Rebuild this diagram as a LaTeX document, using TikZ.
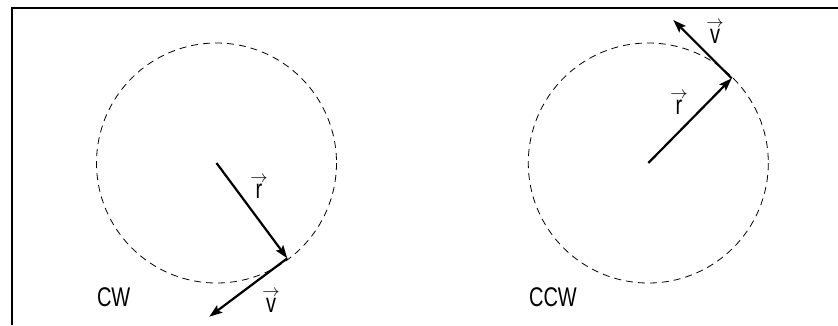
\documentclass[tikz,border=0pt]{standalone}
\usepackage{fontspec}
\setmainfont[FakeStretch=0.74]{Liberation Sans}
\usetikzlibrary{arrows.meta}
\newcommand{\vlab}[1]{\ensuremath{\stackrel{\mbox{\fontsize{19}{19}\selectfont$\rightarrow$}}{\mbox{#1}}}}
\tikzset{
  orbit/.style={draw=black, line width=0.8pt, dash pattern=on 7pt off 5pt},
  vecarrow/.style={draw=black, line width=2.2pt, line join=miter, -{Stealth[length=13pt,width=9pt,inset=2.5pt]}},
  lbl/.style={inner sep=0pt, font=\fontsize{27}{30}\selectfont},
  frameline/.style={draw=black, line width=2pt}
}
\begin{document}
\begin{tikzpicture}[x=1pt,y=-1pt]
\useasboundingbox (0,0) rectangle (838,325);
% frame (top and left edges)
\coordinate (fbl) at (12,325);
\coordinate (ftl) at (12,7.7);
\coordinate (ftr) at (838,7.7);
\draw[frameline] (fbl) -- (ftl) -- (ftr);
% left: clockwise
\coordinate (c1) at (216.5,163);
\draw[orbit] (c1) circle[radius=120];
\coordinate (r1) at (287.3,258.3);
\coordinate (v1) at (209.3,316.7);
\draw[vecarrow] (c1) -- (r1);
\draw[vecarrow] (r1) -- (v1);
\node[lbl] (lr1) at (259,187) {\vlab{r}};
\node[lbl] (lv1) at (271,301) {\vlab{v}};
\node[lbl] (cw) at (113.7,297.5) {CW};
% right: counter-clockwise
\coordinate (c2) at (648.3,163);
\draw[orbit] (c2) circle[radius=120];
\coordinate (r2) at (731.7,78.3);
\coordinate (v2) at (673.3,20);
\draw[vecarrow] (c2) -- (r2);
\draw[vecarrow] (r2) -- (v2);
\node[lbl] (lr2) at (679,103) {\vlab{r}};
\node[lbl] (lv2) at (715,32) {\vlab{v}};
\node[lbl] (ccw) at (553,297.5) {CCW};
\end{tikzpicture}
\end{document}
